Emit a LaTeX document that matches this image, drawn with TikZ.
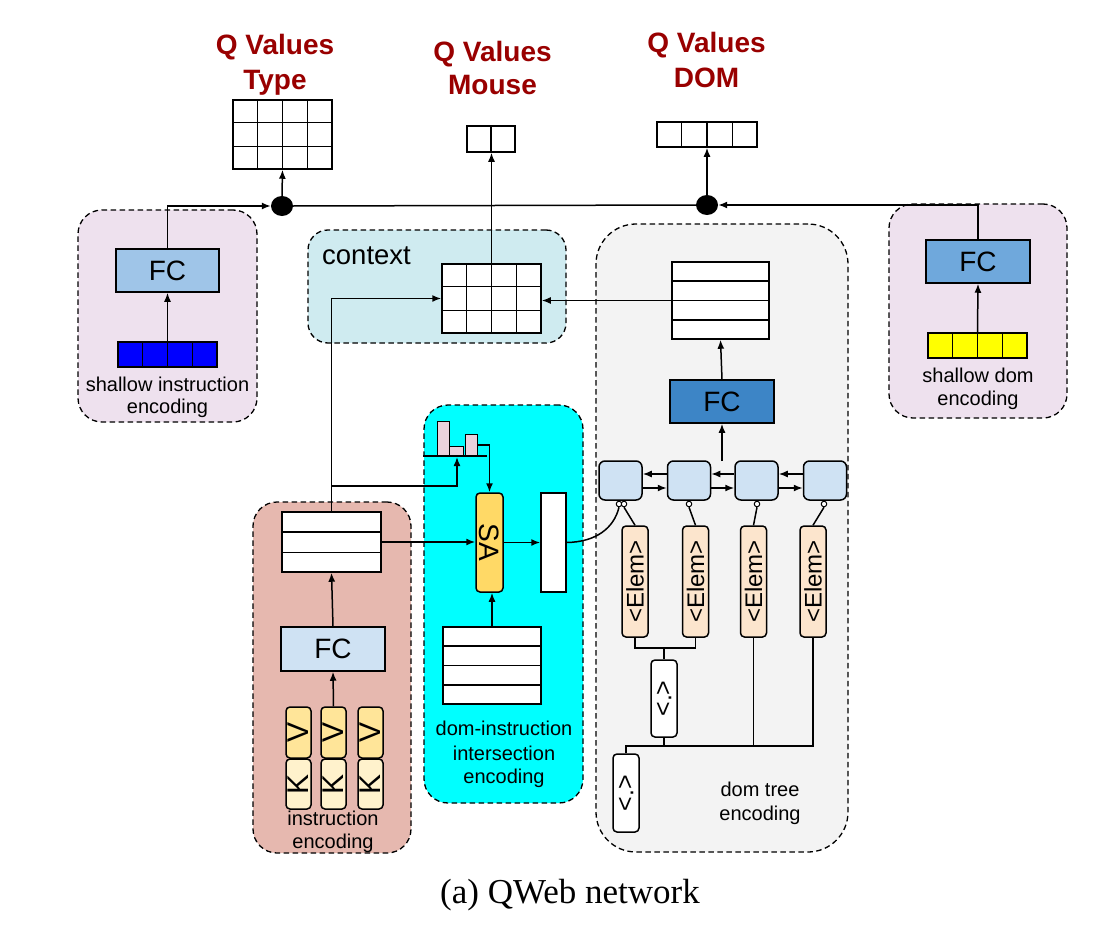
\documentclass[tikz,border=0pt]{standalone}
\usepackage{fontspec}
\setmainfont{Liberation Sans}
\newfontfamily\capfont{Liberation Serif}
\usetikzlibrary{arrows.meta,calc,shapes.geometric}
\definecolor{qred}{RGB}{153,0,0}
\definecolor{purp}{RGB}{238,225,238}
\definecolor{ctxc}{RGB}{207,235,240}
\definecolor{grayc}{RGB}{243,243,243}
\definecolor{instc}{RGB}{230,184,175}
\definecolor{cyanc}{RGB}{0,255,255}
\definecolor{bluec}{RGB}{0,0,255}
\definecolor{yellowc}{RGB}{255,255,0}
\definecolor{fclight}{RGB}{207,226,243}
\definecolor{fcmid}{RGB}{159,197,232}
\definecolor{fcright}{RGB}{111,168,220}
\definecolor{fcdark}{RGB}{61,133,198}
\definecolor{vc}{RGB}{255,229,153}
\definecolor{kc}{RGB}{255,242,204}
\definecolor{sac}{RGB}{255,217,102}
\definecolor{elemc}{RGB}{252,229,205}
\definecolor{histc}{RGB}{234,209,220}
\begin{document}
\begin{tikzpicture}[x=1pt,y=-1pt,
  ln/.style={line width=1.5pt},
  arr/.style={line width=1.5pt,-{Latex[length=9pt,width=7pt]}},
  grp/.style={draw,line width=1.3pt,dash pattern=on 5.5pt off 3.5pt,rounded corners=24pt,inner sep=0pt},
  box/.style={draw,line width=1.5pt,inner sep=0pt,fill=white},
  rbox/.style={box,rounded corners=4pt},
  sz/.style 2 args={minimum width=#1pt,minimum height=#2pt},
  qlab/.style={font=\bfseries\fontsize{28}{30}\selectfont,text=qred,anchor=base,inner sep=0pt},
  lab/.style={font=\fontsize{20}{22}\selectfont,anchor=base,inner sep=0pt},
  fc/.style={box,font=\fontsize{28}{30}\selectfont},
  jdot/.style={ellipse,fill=black,minimum width=22pt,minimum height=20pt,inner sep=0pt},
  port/.style={circle,draw,fill=white,line width=1pt,inner sep=0pt,minimum size=5.5pt}
]
\path[fill=white] (0,0) rectangle (1101,942);
\useasboundingbox (0,0) rectangle (1101,942);

% group boxes
\node[grp,fill=purp,sz={179}{212}] (gSI) at (167.5,316) {};
\node[grp,fill=ctxc,sz={258}{113},rounded corners=20pt] (gCtx) at (437,286.5) {};
\node[grp,fill=grayc,sz={252}{628},rounded corners=40pt] (gDom) at (722,538) {};
\node[grp,fill=purp,sz={178}{214}] (gSD) at (978,311) {};
\node[grp,fill=cyanc,sz={159}{398}] (gDI) at (503.5,604) {};
\node[grp,fill=instc,sz={158}{351}] (gI) at (332,677.5) {};

% Q value labels
\node[qlab] (qt1) at (275,55) {Q Values};
\node[qlab] (qt2) at (275,89) {Type};
\node[qlab] (qm1) at (492.5,62) {Q Values};
\node[qlab] (qm2) at (492.5,95) {Mouse};
\node[qlab] (qd1) at (706.5,53) {Q Values};
\node[qlab] (qd2) at (706.5,88) {DOM};

% Q value grids
\node[box,sz={99}{69}] (qtype) at (282.5,134.5) {};
\foreach \f in {0.25,0.5,0.75} \draw[ln] ($(qtype.north west)!\f!(qtype.north east)$) -- ($(qtype.south west)!\f!(qtype.south east)$);
\foreach \f in {0.3333,0.6667} \draw[ln] ($(qtype.north west)!\f!(qtype.south west)$) -- ($(qtype.north east)!\f!(qtype.south east)$);
\node[box,sz={48}{26}] (qmouse) at (491,139) {};
\draw[ln] (qmouse.north) -- (qmouse.south);
\node[box,sz={100}{25}] (qdom) at (707,134.5) {};
\foreach \f in {0.25,0.5,0.75} \draw[ln] ($(qdom.north west)!\f!(qdom.north east)$) -- ($(qdom.south west)!\f!(qdom.south east)$);

% junctions
\node[jdot] (dotL) at (282,206) {};
\node[jdot] (dotR) at (707,205) {};

% shallow instruction
\node[fc,fill=fcmid,sz={103}{43}] (fcL) at (167.5,270.5) {FC};
\node[box,fill=bluec,sz={99}{25}] (vecB) at (167.5,354.5) {};
\foreach \f in {0.25,0.5,0.75} \draw[ln] ($(vecB.north west)!\f!(vecB.north east)$) -- ($(vecB.south west)!\f!(vecB.south east)$);
\node[lab] (tSI1) at (167.5,391) {shallow instruction};
\node[lab] (tSI2) at (167.5,413) {encoding};

% shallow dom
\node[fc,fill=fcright,sz={104}{43}] (fcR) at (978,261.5) {FC};
\node[box,fill=yellowc,sz={99}{25}] (vecY) at (977.5,345.5) {};
\foreach \f in {0.25,0.5,0.75} \draw[ln] ($(vecY.north west)!\f!(vecY.north east)$) -- ($(vecY.south west)!\f!(vecY.south east)$);
\node[lab] (tSD1) at (978,382) {shallow dom};
\node[lab] (tSD2) at (978,405) {encoding};

% context
\node[font=\fontsize{27.5}{30}\selectfont,anchor=base west,inner sep=0pt] (tctx) at (322,264) {context};
\node[box,sz={99}{69}] (ctxgrid) at (491.5,298.5) {};
\foreach \f in {0.25,0.5,0.75} \draw[ln] ($(ctxgrid.north west)!\f!(ctxgrid.north east)$) -- ($(ctxgrid.south west)!\f!(ctxgrid.south east)$);
\foreach \f in {0.3333,0.6667} \draw[ln] ($(ctxgrid.north west)!\f!(ctxgrid.south west)$) -- ($(ctxgrid.north east)!\f!(ctxgrid.south east)$);

% dom tree
\node[box,sz={97}{77}] (domtab) at (720.5,300.5) {};
\foreach \f in {0.25,0.5,0.75} \draw[ln] ($(domtab.north west)!\f!(domtab.south west)$) -- ($(domtab.north east)!\f!(domtab.south east)$);
\node[fc,fill=fcdark,sz={104}{43}] (fcD) at (722,401.5) {FC};
\node[rbox,fill=fclight,rounded corners=6pt,sz={43}{39}] (cell1) at (620.5,480.5) {};
\node[rbox,fill=fclight,rounded corners=6pt,sz={43}{39}] (cell2) at (689,480.5) {};
\node[rbox,fill=fclight,rounded corners=6pt,sz={43}{39}] (cell3) at (756.5,480.5) {};
\node[rbox,fill=fclight,rounded corners=6pt,sz={43}{39}] (cell4) at (825,480.5) {};
\foreach \n/\xx in {e1/635,e2/695.5,e3/753.5,e4/813}
  \node[rbox,fill=elemc,sz={26}{111},font=\fontsize{24}{24}\selectfont] (\n) at (\xx,581.5) {\rotatebox{90}{<Elem>}};
\node[rbox,sz={26}{77},font=\fontsize{25}{25}\selectfont] (dt1) at (664,698.5) {\rotatebox{90}{<.>}};
\node[rbox,sz={26}{78},font=\fontsize{25}{25}\selectfont] (dt2) at (626,793) {\rotatebox{90}{<.>}};
\node[lab] (tDT1) at (760,796) {dom tree};
\node[lab] (tDT2) at (760,820) {encoding};
\node[port] (c1a) at (619,504) {};
\node[port] (c1b) at (624,504) {};
\node[port] (c2) at (689,504) {};
\node[port] (c3) at (757,504) {};
\node[port] (c4) at (824,504) {};
\coordinate (lt) at (722,461);
\coordinate (j1) at (664,648);
\coordinate (t2) at (664,746);

% dom-instruction intersection
\node[draw,line width=1.3pt,fill=histc,inner sep=0pt,minimum width=12pt,minimum height=34pt,anchor=south west] (bar1) at (437,456) {};
\node[draw,line width=1.3pt,fill=histc,inner sep=0pt,minimum width=14pt,minimum height=9pt,anchor=south west] (bar2) at (449,456) {};
\node[draw,line width=1.3pt,fill=histc,inner sep=0pt,minimum width=12pt,minimum height=21pt,anchor=south west] (bar3) at (465,456) {};
\coordinate (hL) at (423,456);
\coordinate (hR) at (487,456);
\draw[ln] (hL) -- (hR);
\coordinate (hb) at (457,457);
\coordinate (hq) at (477,445);
\node[rbox,fill=sac,sz={27}{99},font=\fontsize{28}{28}\selectfont] (SA) at (489.5,542.5) {\rotatebox{-90}{SA}};
\node[box,sz={25}{99}] (wrect) at (553.5,542.5) {};
\node[box,sz={98}{77}] (ditab) at (492,665.5) {};
\foreach \f in {0.25,0.5,0.75} \draw[ln] ($(ditab.north west)!\f!(ditab.south west)$) -- ($(ditab.north east)!\f!(ditab.south east)$);
\node[lab] (tDI1) at (504,735) {dom-instruction};
\node[lab] (tDI2) at (504,760) {intersection};
\node[lab] (tDI3) at (504,783) {encoding};

% instruction encoding
\node[box,sz={99}{60}] (itab) at (331.5,542) {};
\foreach \f in {0.3333,0.6667} \draw[ln] ($(itab.north west)!\f!(itab.south west)$) -- ($(itab.north east)!\f!(itab.south east)$);
\node[fc,fill=fclight,sz={104}{44}] (fcI) at (333,649) {FC};
\foreach \i/\xx in {1/298.5,2/333.5,3/370.5}{
  \node[rbox,fill=vc,sz={25}{51},font=\fontsize{30}{30}\selectfont] (v\i) at (\xx,732.5) {\rotatebox{90}{V}};
  \node[rbox,fill=kc,sz={25}{50},font=\fontsize{30}{30}\selectfont] (k\i) at (\xx,784) {\rotatebox{90}{K}};
}
\node[lab] (tI1) at (333,825) {instruction};
\node[lab] (tI2) at (333,848) {encoding};
\coordinate (brk) at (331.5,486);

% caption
\node[font=\capfont\fontsize{35}{35}\selectfont,anchor=base,inner sep=0pt] (cap) at (570,903) {(a) QWeb network};

% connectors
\draw[arr] (fcL.north) |- (dotL.west);
\draw[arr] (dotL.north) -- (qtype.south);
\draw[ln] (dotL.east) -- (dotR.west);
\draw[arr] (dotR.north) -- (qdom.south);
\draw[arr] (fcR.north) |- (dotR.east);
\draw[arr] (vecB.north) -- (fcL.south);
\draw[arr] (vecY.north) -- (fcR.south);
\draw[arr] (ctxgrid.north) -- (ctxgrid.north |- qmouse.south);
\draw[arr] (itab.north) |- (ctxgrid.west);
\draw[arr] (brk) -| (hb);
\draw[arr] (hq) -| (SA.north);
\draw[arr] (itab.east) -- (itab.east -| SA.west);
\draw[arr] (SA.east) -- (wrect.west);
\draw[arr] (ditab.north) -- (ditab.north |- SA.south);
\draw[ln] (wrect.east) .. controls (596,542) and (614,528) .. (c1a.south);
\draw[arr] (domtab.west) -- (domtab.west -| ctxgrid.east);
\draw[arr] (fcD.north) -- (domtab.south);
\draw[arr] (lt) -- (fcD.south);
\foreach \a/\b in {cell1/cell2,cell2/cell3,cell3/cell4}{
  \draw[arr] ([yshift=-7.5pt]\a.east) -- ([yshift=-7.5pt]\b.west);
  \draw[arr] ([yshift=6.5pt]\b.west) -- ([yshift=6.5pt]\a.east);
}
\draw[ln] (e1.north) -- (c1b.south);
\draw[ln] (e2.north) -- (c2.south);
\draw[ln] (e3.north) -- (c3.south);
\draw[ln] (e4.north) -- (c4.south);
\draw[ln] (e1.south) |- (j1);
\draw[ln] (e2.south) |- (j1);
\draw[ln] (j1) -- (dt1.north);
\draw[ln] (dt1.south) -- (t2);
\draw[ln] (dt2.north) |- (t2);
\draw[ln] (e3.south) |- (t2);
\draw[ln] (e4.south) |- (t2);
\draw[arr] (fcI.north) -- (itab.south);
\draw[arr] (v2.north) -- (fcI.south);
\end{tikzpicture}
\end{document}
